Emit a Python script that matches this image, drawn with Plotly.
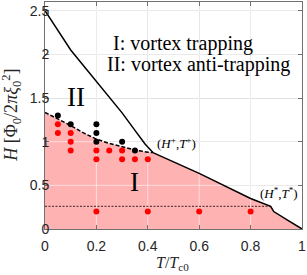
import plotly.graph_objects as go
import numpy as np

# --- data ---
upper_t = [0.0, 0.05, 0.10, 0.15, 0.20, 0.25, 0.30, 0.35, 0.39, 0.42]
upper_h = [2.50, 2.27, 2.05, 1.87, 1.69, 1.51, 1.33, 1.13, 0.97, 0.875]

lower_dash_t = [0.0, 0.05, 0.10, 0.15, 0.20, 0.25, 0.30, 0.35, 0.40, 0.42]
lower_dash_h = [1.335, 1.26, 1.185, 1.10, 1.03, 0.98, 0.94, 0.905, 0.88, 0.875]

lower_solid_t = [0.42, 0.60, 0.80, 0.878, 0.89, 0.91, 0.95, 1.0]
lower_solid_h = [0.875, 0.637, 0.35, 0.26, 0.20, 0.16, 0.09, 0.0]

hstar_t = [0.0, 0.878]
hstar_h = [0.26, 0.26]

black_t = [0.05, 0.10, 0.20, 0.20, 0.20, 0.30, 0.35]
black_h = [1.30, 1.20, 1.20, 1.10, 1.00, 1.00, 0.90]

red_t = [0.05, 0.05, 0.10, 0.10, 0.10, 0.20, 0.20, 0.25, 0.30, 0.30, 0.35, 0.40,
         0.20, 0.40, 0.60, 0.80]
red_h = [1.20, 1.10, 1.10, 1.00, 0.90, 0.90, 0.80, 0.90, 0.90, 0.80, 0.80, 0.80,
         0.20, 0.20, 0.20, 0.20]

x_ticks = [0, 0.2, 0.4, 0.6, 0.8, 1]
x_ticklabels = ["0", "0.2", "0.4", "0.6", "0.8", "1"]
y_ticks = [0, 0.5, 1, 1.5, 2, 2.5]
y_ticklabels = ["0", "0.5", "1", "1.5", "2", "2.5"]

PINK = "rgb(255,178,178)"
SERIF = "Liberation Serif"
SANS = "Liberation Sans"

fig = go.Figure()

# pink region I
bt = lower_dash_t + lower_solid_t[1:]
bh = lower_dash_h + lower_solid_h[1:]
fig.add_trace(go.Scatter(x=bt, y=bh, mode="lines", line=dict(width=0),
                         fill="tozeroy", fillcolor=PINK, hoverinfo="skip"))

# light overlay on grid lines (makes grid look lighter inside the pink area)
gx, gy = [], []
for t in x_ticks[1:-1]:
    gx += [t, t, None]
    gy += [0, 2.6, None]
for h in y_ticks[1:]:
    gx += [0, 1, None]
    gy += [h, h, None]
fig.add_trace(go.Scatter(x=gx, y=gy, mode="lines",
                         line=dict(color="rgba(255,255,255,0.55)", width=1),
                         hoverinfo="skip"))

# curves
fig.add_trace(go.Scatter(x=upper_t, y=upper_h, mode="lines",
                         line=dict(color="black", width=1.5)))
fig.add_trace(go.Scatter(x=lower_dash_t, y=lower_dash_h, mode="lines",
                         line=dict(color="black", width=1.5, dash="4px,2px")))
fig.add_trace(go.Scatter(x=lower_solid_t, y=lower_solid_h, mode="lines",
                         line=dict(color="black", width=1.5)))
fig.add_trace(go.Scatter(x=hstar_t, y=hstar_h, mode="lines",
                         line=dict(color="black", width=0.8, dash="2px,1.5px")))

# points
fig.add_trace(go.Scatter(x=black_t, y=black_h, mode="markers",
                         marker=dict(color="black", size=6)))
fig.add_trace(go.Scatter(x=red_t, y=red_h, mode="markers",
                         marker=dict(color="rgb(255,0,0)", size=6)))

ann = [
    dict(x=0.258, y=2.13, text="I: vortex trapping", xanchor="left", yanchor="middle",
         font=dict(family=SERIF, size=20, color="black")),
    dict(x=0.235, y=1.88, text="II: vortex anti-trapping", xanchor="left", yanchor="middle",
         font=dict(family=SERIF, size=20, color="black")),
    dict(x=0.12, y=1.51, text="II", xanchor="center", yanchor="middle",
         font=dict(family=SERIF, size=27, color="black")),
    dict(x=0.35, y=0.54, text="I", xanchor="center", yanchor="middle",
         font=dict(family=SERIF, size=27, color="black")),
    dict(x=0.513, y=0.98, text="(<i>H</i><sup>+</sup>,<i>T</i><sup>+</sup>)",
         xanchor="center", yanchor="middle",
         font=dict(family=SERIF, size=13, color="black")),
    dict(x=0.91, y=0.41, text="(<i>H</i><sup>*</sup>,<i>T</i><sup>*</sup>)",
         xanchor="center", yanchor="middle",
         font=dict(family=SERIF, size=13, color="black")),
    dict(xref="paper", yref="paper", x=0.498, y=-0.15,
         text="<i>T</i>/<i>T</i><sub>c0</sub>", xanchor="center", yanchor="middle",
         showarrow=False, font=dict(family=SERIF, size=16, color="#262626")),
    dict(xref="paper", yref="paper", x=-0.131, y=0.50, textangle=-90,
         text="<i>H</i> [Φ<sub>0</sub>/2<i>π</i><i>ξ</i><sub>0</sub><sup>2</sup>]",
         xanchor="center", yanchor="middle",
         showarrow=False, font=dict(family=SERIF, size=18, color="#262626")),
]
for a in ann:
    a.setdefault("showarrow", False)
    fig.add_annotation(**a)

axis_common = dict(showline=True, linecolor="#707070", linewidth=1, mirror="ticks",
                   ticks="inside", ticklen=4, tickcolor="#707070",
                   showgrid=True, gridcolor="rgb(215,215,215)", gridwidth=1,
                   zeroline=False, ticklabeloverflow="allow",
                   tickfont=dict(family=SANS, size=14, color="#262626"))

fig.update_xaxes(range=[0, 1], tickvals=x_ticks, ticktext=x_ticklabels,
                 ticklabelstandoff=4, **axis_common)
fig.update_yaxes(range=[0, 2.6], tickvals=y_ticks, ticktext=y_ticklabels,
                 ticklabelstandoff=-8, **axis_common)

fig.update_layout(width=307, height=275, showlegend=False,
                  margin=dict(l=45, r=3, t=1, b=46),
                  plot_bgcolor="white", paper_bgcolor="white")

fig.write_html("out.html", config={"displayModeBar": False},
               post_script="document.body.style.margin='0';document.body.style.padding='0';")
